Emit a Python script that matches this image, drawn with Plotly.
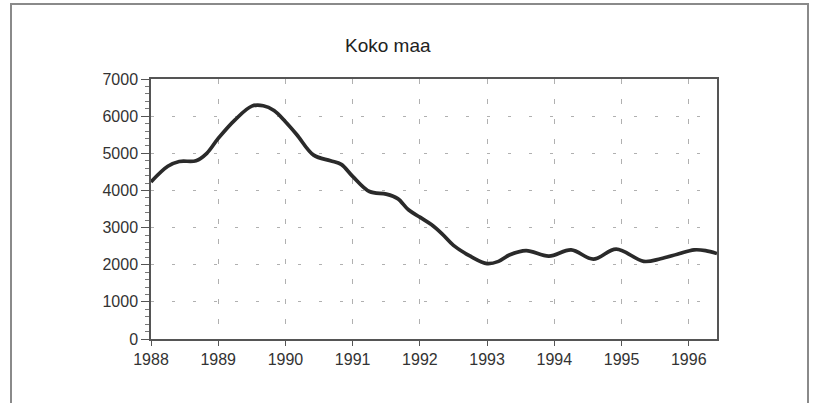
import plotly.graph_objects as go

# Decimal years and values
years = [1988.00, 1988.25, 1988.42, 1988.67, 1988.83, 1989.00, 1989.25, 1989.50,
         1989.67, 1989.83, 1990.00, 1990.17, 1990.42, 1990.67, 1990.83, 1991.00,
         1991.25, 1991.50, 1991.67, 1991.83, 1992.00, 1992.17, 1992.33, 1992.50,
         1992.75, 1993.00, 1993.17, 1993.33, 1993.58, 1993.92, 1994.25, 1994.58,
         1994.92, 1995.33, 1995.58, 1995.83, 1996.08, 1996.25, 1996.42]
values = [4230, 4650, 4780, 4800, 5000, 5400, 5900, 6270,
          6280, 6150, 5850, 5500, 4950, 4800, 4700, 4380,
          3970, 3900, 3780, 3480, 3280, 3080, 2830, 2520,
          2230, 2030, 2090, 2260, 2380, 2230, 2400, 2150,
          2420, 2090, 2160, 2280, 2400, 2380, 2300]

x_ticks = [1988, 1989, 1990, 1991, 1992, 1993, 1994, 1995, 1996]
y_ticks = [0, 1000, 2000, 3000, 4000, 5000, 6000, 7000]
title_text = "Koko maa"

W, H = 813, 403
L, R, T, B = 151, 717, 79, 339

fig = go.Figure()
fig.add_trace(go.Scatter(
    x=years, y=values, mode="lines",
    line=dict(color="#2a2a2a", width=3.7, shape="spline", smoothing=1.0),
    hoverinfo="x+y", showlegend=False,
))

font = "Liberation Sans, Arial, Helvetica, sans-serif"
fig.update_layout(
    width=W, height=H,
    margin=dict(l=L, r=W - R, t=T, b=H - B),
    paper_bgcolor="white", plot_bgcolor="white",
    font=dict(family=font, size=16, color="#333"),
    xaxis=dict(
        range=[1988, 1996.42], tickvals=x_ticks, ticktext=[str(v) for v in x_ticks],
        showline=True, linecolor="#555", linewidth=1.5, mirror=True,
        ticks="outside", ticklen=5, tickcolor="#555", tickwidth=1,
        showgrid=True, gridcolor="#b0b0b0", gridwidth=1, griddash="5px,15px",
        zeroline=False, tickfont=dict(size=16, color="#333"),
    ),
    yaxis=dict(
        range=[0, 7000], tickvals=y_ticks,
        showline=True, linecolor="#555", linewidth=1.5, mirror=True,
        ticks="outside", ticklen=8, tickcolor="#555", tickwidth=1,
        minor=dict(dtick=200, ticks="outside", ticklen=4, tickcolor="#777", showgrid=False),
        showgrid=True, gridcolor="#b0b0b0", gridwidth=1, griddash="3px,18px",
        zeroline=False, tickfont=dict(size=16, color="#333"),
    ),
)

pw, ph = R - L, B - T
def px_x(p):
    return (p - L) / pw
def px_y(p):
    return (H - p - (H - B)) / ph

fig.add_shape(type="rect", xref="paper", yref="paper",
              x0=px_x(11), x1=px_x(808), y0=px_y(420), y1=px_y(4),
              line=dict(color="#8a8a8a", width=2), fillcolor="rgba(0,0,0,0)", layer="below")

fig.add_annotation(text=title_text, xref="paper", yref="paper",
                   x=px_x(388), y=px_y(45), showarrow=False,
                   xanchor="center", yanchor="middle",
                   font=dict(family=font, size=19, color="#222"))

fig.write_html("out.html", config={"displayModeBar": False},
               post_script="document.body.style.margin='0px';")
